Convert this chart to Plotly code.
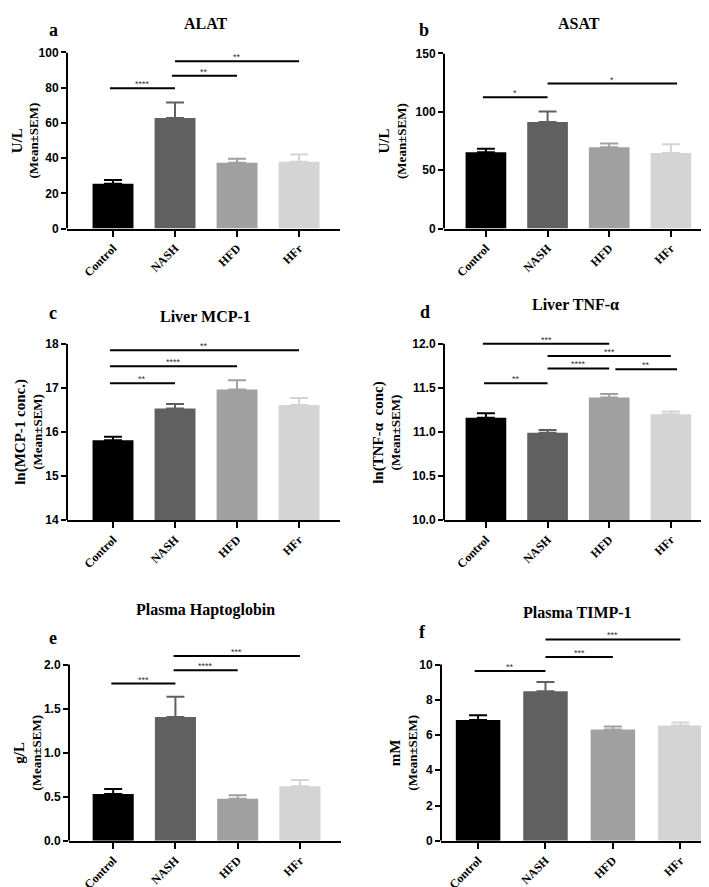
import plotly.graph_objects as go

W, H = 709, 887
SERIF = "Liberation Serif, Times New Roman, serif"
SANS = "Liberation Sans, Arial, sans-serif"

groups = ["Control", "NASH", "HFD", "HFr"]
bar_colors = ["#000000", "#606060", "#a0a0a0", "#d4d4d4"]

# mean and SEM per group
alat_mean = [25.4, 62.7, 37.3, 37.9]
alat_sem = [2.2, 8.8, 2.4, 4.1]
asat_mean = [65.4, 91.3, 69.7, 64.6]
asat_sem = [2.9, 9.0, 3.1, 7.6]
mcp1_mean = [15.81, 16.53, 16.96, 16.61]
mcp1_sem = [0.08, 0.10, 0.21, 0.16]
tnf_mean = [11.16, 10.99, 11.39, 11.20]
tnf_sem = [0.05, 0.03, 0.04, 0.03]
hapto_mean = [0.532, 1.405, 0.476, 0.619]
hapto_sem = [0.055, 0.23, 0.04, 0.07]
timp_mean = [6.86, 8.49, 6.32, 6.54]
timp_sem = [0.26, 0.52, 0.17, 0.17]

# significance brackets: (start, end, height, stars)
alat_sig = [(-0.05, 1.0, 79.7, "****"), (0.95, 2.0, 86.8, "**"), (1.0, 3.0, 95.0, "**")]
asat_sig = [(-0.05, 1.0, 112.4, "*"), (1.0, 3.1, 124.2, "*")]
mcp1_sig = [(-0.05, 1.0, 17.10, "**"), (-0.05, 2.0, 17.49, "****"), (-0.05, 3.0, 17.85, "**")]
tnf_sig = [(-0.03, 1.0, 11.55, "**"), (1.0, 2.0, 11.72, "****"), (2.1, 3.1, 11.71, "**"),
           (1.0, 3.0, 11.86, "***"), (-0.05, 2.0, 12.0, "***")]
hapto_sig = [(-0.03, 1.0, 1.784, "***"), (0.97, 2.0, 1.937, "****"), (0.97, 3.0, 2.097, "***")]
timp_sig = [(-0.05, 1.0, 9.63, "**"), (1.0, 2.0, 10.43, "***"), (1.0, 3.0, 11.43, "***")]

alat_ticks = [0, 20, 40, 60, 80, 100]
asat_ticks = [0, 50, 100, 150]
mcp1_ticks = [14, 15, 16, 17, 18]
tnf_ticks = [10.0, 10.5, 11.0, 11.5, 12.0]
hapto_ticks = [0.0, 0.5, 1.0, 1.5, 2.0]
timp_ticks = [0, 2, 4, 6, 8, 10]

# box = (left px, right px, bottom px, top-tick px)
panels = [
    dict(letter="a", title="ALAT", unit="U/L", mean=alat_mean, sem=alat_sem, sig=alat_sig,
         ticks=alat_ticks, fmt="", ext=100, box=(59, 332, 217, 38), xr=(-0.742, 3.66),
         title_xy=(198, 9), letter_xy=(45, 15), ytitle_x=17),
    dict(letter="b", title="ASAT", unit="U/L", mean=asat_mean, sem=asat_sem, sig=asat_sig,
         ticks=asat_ticks, fmt="", ext=150, box=(436, 706, 217, 39), xr=(-0.68, 3.70),
         title_xy=(571, 9), letter_xy=(416, 15), ytitle_x=385),
    dict(letter="c", title="Liver MCP-1", unit="ln(MCP-1 conc.)", mean=mcp1_mean, sem=mcp1_sem,
         sig=mcp1_sig, ticks=mcp1_ticks, fmt="", ext=18, box=(59, 332, 513, 334),
         xr=(-0.742, 3.66), title_xy=(197, 306), letter_xy=(45, 303), ytitle_x=21),
    dict(letter="d", title="Liver TNF-α", unit="ln(TNF-α  conc)", mean=tnf_mean, sem=tnf_sem,
         sig=tnf_sig, ticks=tnf_ticks, fmt=".1f", ext=12.06, box=(436, 706, 513, 334),
         xr=(-0.68, 3.70), title_xy=(567, 294), letter_xy=(417, 302), ytitle_x=379),
    dict(letter="e", title="Plasma Haptoglobin", unit="g/L", mean=hapto_mean, sem=hapto_sem,
         sig=hapto_sig, ticks=hapto_ticks, fmt=".1f", ext=2.12, box=(61, 333, 839, 660),
         xr=(-0.71, 3.66), title_xy=(197, 605), letter_xy=(45, 633), ytitle_x=20),
    dict(letter="f", title="Plasma TIMP-1", unit="mM", mean=timp_mean, sem=timp_sem,
         sig=timp_sig, ticks=timp_ticks, fmt="", ext=11.55, box=(433, 706, 839, 660),
         xr=(-0.55, 3.5), title_xy=(569, 607), letter_xy=(414, 627), ytitle_x=396),
]

fig = go.Figure()
shapes, annotations, axes = [], [], {}

for n, p in enumerate(panels, start=1):
    xa = "x" if n == 1 else f"x{n}"
    ya = "y" if n == 1 else f"y{n}"
    xl, xrp, yb, yt = p["box"]
    y0, y1 = p["ticks"][0], p["ticks"][-1]
    ppu = (yb - yt) / (y1 - y0)
    top_px = yb - (p["ext"] - y0) * ppu

    for g in range(4):
        fig.add_trace(go.Bar(
            x=[g], y=[p["mean"][g]], width=0.66,
            marker=dict(color=bar_colors[g], line=dict(width=0)),
            error_y=dict(type="data", symmetric=False, array=[p["sem"][g]], arrayminus=[0],
                         color=bar_colors[g], thickness=2, width=9),
            xaxis=xa, yaxis=ya, showlegend=False,
        ))

    axes["xaxis" if n == 1 else f"xaxis{n}"] = dict(
        domain=[xl / W, xrp / W], range=list(p["xr"]), anchor=ya,
        tickvals=[0, 1, 2, 3], ticktext=groups, tickangle=-45,
        showline=True, linecolor="black", linewidth=2,
        ticks="outside", ticklen=6, tickwidth=2, tickcolor="black",
        tickfont=dict(family=SERIF, size=12, color="black", weight="bold"),
        showgrid=False, zeroline=False,
    )
    axes["yaxis" if n == 1 else f"yaxis{n}"] = dict(
        domain=[1 - yb / H, 1 - top_px / H], range=[y0, p["ext"]], anchor=xa,
        tickvals=p["ticks"], tickformat=p["fmt"],
        showline=False, ticks="outside", ticklen=5, tickwidth=2, tickcolor="black",
        tickfont=dict(family=SANS, size=12, color="black", weight="bold"),
        showgrid=False, zeroline=False,
    )

    # y axis line only up to the top tick
    shapes.append(dict(type="line", xref=f"{xa} domain", yref=ya, x0=0, x1=0, y0=y0, y1=y1,
                       line=dict(color="black", width=2)))

    for a, b, h, stars in p["sig"]:
        shapes.append(dict(type="line", xref=xa, yref=ya, x0=a, x1=b, y0=h, y1=h,
                           line=dict(color="black", width=2)))
        annotations.append(dict(x=(a + b) / 2, y=h, xref=xa, yref=ya, text=stars,
                                showarrow=False, yanchor="middle", yshift=4,
                                font=dict(family=SANS, size=9, color="#333333")))

    annotations.append(dict(x=p["title_xy"][0] / W, y=1 - p["title_xy"][1] / H,
                            xref="paper", yref="paper", text=p["title"], showarrow=False,
                            xanchor="center", yanchor="middle",
                            font=dict(family=SERIF, size=16, color="black", weight="bold")))
    annotations.append(dict(x=p["letter_xy"][0] / W, y=1 - p["letter_xy"][1] / H,
                            xref="paper", yref="paper", text=p["letter"], showarrow=False,
                            xanchor="center", yanchor="middle",
                            font=dict(family=SERIF, size=18, color="black", weight="bold")))
    annotations.append(dict(x=p["ytitle_x"] / W, y=1 - (yb + yt) / 2 / H,
                            xref="paper", yref="paper", textangle=-90, showarrow=False,
                            text=f'<span style="font-size:15px">{p["unit"]}</span><br>(Mean±SEM)',
                            xanchor="center", yanchor="middle",
                            font=dict(family=SERIF, size=13, color="black", weight="bold")))

fig.update_layout(
    width=W, height=H,
    margin=dict(l=0, r=0, t=0, b=0),
    paper_bgcolor="white", plot_bgcolor="white",
    barmode="overlay", showlegend=False,
    shapes=shapes, annotations=annotations,
    **axes,
)

fig.write_html("out.html")
